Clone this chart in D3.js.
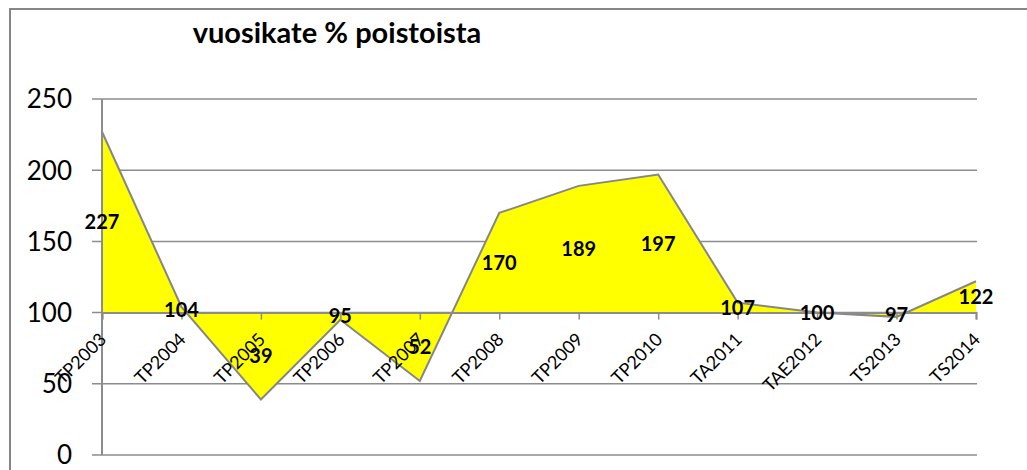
<!DOCTYPE html>
<html>
<head>
<meta charset="utf-8" />
<title>vuosikate % poistoista</title>
<script src="https://d3js.org/d3.v7.min.js"></script>
<style>
  body { margin: 0; background: #fff; overflow: hidden; }
  svg { display: block; }
  text { font-family: Lato, "Open Sans", sans-serif; }
</style>
</head>
<body>
<svg id="viz"></svg>
<script>
  var categories = ["TP2003", "TP2004", "TP2005", "TP2006", "TP2007", "TP2008",
                    "TP2009", "TP2010", "TA2011", "TAE2012", "TS2013", "TS2014"];
  var values = [227, 104, 39, 95, 52, 170, 189, 197, 107, 100, 97, 122];
  var yTicks = [0, 50, 100, 150, 200, 250];
  var baseline = 100;

  var data = categories.map(function(c, i) { return { cat: c, v: values[i] }; });

  var svg = d3.select("#viz").attr("width", 1027).attr("height", 470);

  // outer chart frame
  svg.append("rect")
    .attr("x", 10).attr("y", 9)
    .attr("width", 1030).attr("height", 480)
    .attr("fill", "none").attr("stroke", "#868686").attr("stroke-width", 2);

  var xScale = d3.scalePoint().domain(categories).range([102, 976]);
  var yScale = d3.scaleLinear().domain([0, 250]).range([455, 99]);

  // gridlines
  svg.append("g").selectAll("line").data(yTicks).enter().append("line")
    .attr("x1", 92).attr("x2", 977)
    .attr("y1", function(d) { return yScale(d); })
    .attr("y2", function(d) { return yScale(d); })
    .attr("stroke", "#8c8c8c").attr("stroke-width", 1.5);

  // y tick labels
  svg.append("g").selectAll("text").data(yTicks).enter().append("text")
    .attr("x", 72)
    .attr("y", function(d) { return yScale(d); })
    .attr("dy", "0.36em")
    .attr("text-anchor", "end")
    .attr("font-size", 26)
    .attr("fill", "#000")
    .text(function(d) { return d; });

  // area relative to baseline
  var area = d3.area()
    .x(function(d) { return xScale(d.cat); })
    .y0(yScale(baseline))
    .y1(function(d) { return yScale(d.v); });

  svg.append("path").datum(data)
    .attr("d", area)
    .attr("fill", "#ffff00");

  var line = d3.line()
    .x(function(d) { return xScale(d.cat); })
    .y(function(d) { return yScale(d.v); });

  svg.append("path").datum(data)
    .attr("d", line)
    .attr("fill", "none")
    .attr("stroke", "#868686").attr("stroke-width", 2);

  // vertical axis line
  svg.append("line")
    .attr("x1", 102).attr("x2", 102)
    .attr("y1", yScale(250)).attr("y2", yScale(0))
    .attr("stroke", "#8c8c8c").attr("stroke-width", 2);

  // category axis crossing at 100
  var xAxis = d3.axisBottom(xScale).tickSize(7).tickFormat(function(d) { return d; });
  var gx = svg.append("g")
    .attr("transform", "translate(0," + yScale(baseline) + ")")
    .call(xAxis);
  gx.select(".domain").attr("stroke", "#8c8c8c").attr("stroke-width", 2);
  gx.selectAll(".tick line").attr("stroke", "#8c8c8c").attr("stroke-width", 1.5);
  gx.selectAll(".tick text")
    .attr("font-size", 18)
    .attr("font-family", "Lato, sans-serif")
    .attr("fill", "#000")
    .attr("text-anchor", "end")
    .attr("x", 0).attr("y", 0).attr("dy", 0)
    .attr("transform", "translate(5,28) rotate(-45)");

  // data labels, centred between the value and the baseline
  svg.append("g").selectAll("text").data(data).enter().append("text")
    .attr("x", function(d) { return xScale(d.cat); })
    .attr("y", function(d) { return yScale((d.v + baseline) / 2); })
    .attr("dy", "0.36em")
    .attr("text-anchor", "middle")
    .attr("font-size", 20)
    .attr("font-weight", "bold")
    .attr("fill", "#000")
    .text(function(d) { return d.v; });

  // title
  svg.append("text")
    .attr("x", 337).attr("y", 43)
    .attr("text-anchor", "middle")
    .attr("font-size", 29)
    .attr("font-weight", "bold")
    .attr("fill", "#000")
    .text("vuosikate % poistoista");
</script>
</body>
</html>
